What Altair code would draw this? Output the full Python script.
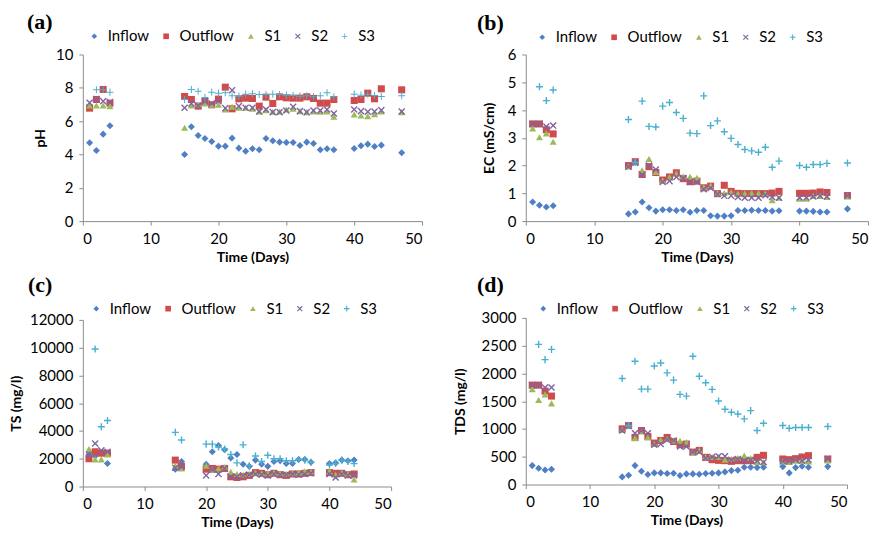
import altair as alt
import pandas as pd

SERIES = ["Inflow", "Outflow", "S1", "S2", "S3"]
COLORS = ["#4F7FC4", "#D04C4C", "#9BBB59", "#8064A2", "#4BB0CF"]

X_PATH = "M-1,-0.72L-0.72,-1L0,-0.28L0.72,-1L1,-0.72L0.28,0L1,0.72L0.72,1L0,0.28L-0.72,1L-1,0.72L-0.28,0Z"
PLUS_PATH = "M-0.14,-1L0.14,-1L0.14,-0.14L1,-0.14L1,0.14L0.14,0.14L0.14,1L-0.14,1L-0.14,0.14L-1,0.14L-1,-0.14L-0.14,-0.14Z"
PLUS_BOLD = "M-0.2,-1L0.2,-1L0.2,-0.2L1,-0.2L1,0.2L0.2,0.2L0.2,1L-0.2,1L-0.2,0.2L-1,0.2L-1,-0.2L-0.2,-0.2Z"

# sampling days
DAYS_ABD = [1, 2, 3, 4, 15, 16, 17, 18, 19, 20, 21, 22, 23, 24, 25, 26, 27, 28, 29, 30,
            31, 32, 33, 34, 35, 36, 37, 40, 41, 42, 43, 44, 47]
DAYS_ABD_S3 = [2, 3, 4, 15, 16, 17, 18, 19, 20, 21, 22, 23, 24, 25, 26, 27, 28, 29, 30,
               31, 32, 33, 34, 35, 36, 37, 40, 41, 42, 43, 44, 47]
DAYS_C = [1, 2, 3, 4, 15, 16, 20, 21, 22, 23, 24, 25, 26, 27, 28, 29, 30,
          31, 32, 33, 34, 35, 36, 37, 40, 41, 42, 43, 44]
DAYS_C_S3 = [2, 3, 4, 15, 16, 20, 21, 22, 23, 24, 25, 26, 27, 28, 29, 30,
             31, 32, 33, 34, 35, 36, 37, 40, 41, 42, 43, 44]

# (a) pH
PH_INFLOW = [4.7, 4.24, 5.22, 5.72, 4.0, 5.66, 5.14, 4.96, 4.78, 4.5, 4.5, 4.98, 4.38, 4.2, 4.34, 4.28,
             4.96, 4.82, 4.74, 4.72, 4.72, 4.54, 4.74, 4.66, 4.28, 4.34, 4.28, 4.36, 4.52, 4.62, 4.48, 4.56, 4.1]
PH_OUTFLOW = [6.78, 7.3, 7.9, 7.08, 7.48, 7.3, 6.9, 7.18, 6.98, 7.32, 8.04, 6.74, 7.34, 7.38, 7.36, 6.9,
              7.44, 7.06, 7.46, 7.4, 7.38, 7.38, 7.46, 7.36, 7.08, 7.08, 7.3, 7.24, 7.3, 7.68, 7.34, 7.94, 7.88]
PH_S1 = [6.94, 6.94, 6.94, 6.9, 5.6, 6.94, 7.0, 7.06, 6.98, 6.98, 6.7, 6.86, 6.8, 6.8, 6.74, 6.58,
         6.66, 6.56, 6.58, 6.7, 6.74, 6.6, 6.54, 6.58, 6.56, 6.58, 6.26, 6.4, 6.34, 6.3, 6.42, 6.58, 6.54]
PH_S2 = [7.1, 7.32, 7.2, 7.14, 6.8, 7.06, 6.94, 7.18, 7.06, 7.2, 6.78, 7.86, 6.9, 6.8, 6.8, 6.58,
         6.7, 6.54, 6.54, 6.64, 6.86, 6.6, 6.54, 6.64, 6.64, 6.7, 6.46, 6.7, 6.6, 6.56, 6.58, 6.66, 6.58]
PH_S3 = [7.88, 7.88, 7.74, 7.3, 7.9, 7.8, 7.42, 7.74, 7.68, 7.7, 7.52, 7.5, 7.62, 7.64, 7.6,
         7.6, 7.62, 7.6, 7.56, 7.54, 7.5, 7.52, 7.46, 7.52, 7.7, 7.46, 7.62, 7.56, 7.62, 7.54, 7.48, 7.52]

# (b) EC (mS/cm)
EC_INFLOW = [0.69, 0.57, 0.51, 0.55, 0.26, 0.33, 0.69, 0.48, 0.36, 0.41, 0.41, 0.38, 0.41, 0.32, 0.38, 0.38,
             0.19, 0.18, 0.18, 0.19, 0.38, 0.38, 0.39, 0.38, 0.38, 0.36, 0.37, 0.36, 0.36, 0.35, 0.33, 0.33, 0.44]
EC_OUTFLOW = [3.5, 3.5, 3.29, 3.14, 2.0, 2.14, 1.68, 1.96, 1.75, 1.48, 1.59, 1.74, 1.53, 1.42, 1.44, 1.2,
              1.26, 0.99, 1.29, 1.07, 1.0, 0.99, 0.99, 0.99, 0.99, 1.01, 1.07, 1.0, 1.0, 1.01, 1.05, 1.03, 0.92]
EC_S1 = [3.34, 3.02, 3.16, 2.86, 1.97, 2.12, 1.83, 2.24, 1.77, 1.47, 1.59, 1.71, 1.61, 1.6, 1.56, 1.23,
         1.29, 1.01, 1.01, 1.05, 0.99, 1.0, 1.01, 1.01, 0.99, 0.75, 0.84, 0.81, 0.81, 0.91, 0.91, 0.87, 0.89]
EC_S2 = [3.5, 3.5, 3.41, 3.44, 1.96, 2.1, 1.68, 2.0, 1.86, 1.41, 1.44, 1.59, 1.55, 1.41, 1.41, 1.15,
         1.19, 0.98, 0.91, 0.91, 0.87, 0.84, 0.84, 0.84, 0.93, 0.87, 0.84, 0.85, 0.85, 0.89, 0.91, 0.89, 0.91]
EC_S3 = [4.84, 4.34, 4.72, 3.66, 2.12, 4.32, 3.41, 3.39, 4.14, 4.27, 3.91, 3.7, 3.17, 3.15, 4.51,
         3.44, 3.61, 3.22, 2.98, 2.76, 2.58, 2.53, 2.48, 2.66, 1.94, 2.16, 2.0, 1.94, 2.04, 2.04, 2.08, 2.09]

# (c) TS (mg/l)
TS_INFLOW = [2300, 2200, 2400, 1650, 1250, 1800, 1600, 2500, 2950, 2650, 2050, 2300, 1600, 1450, 1900,
             1600, 1450, 1800, 1850, 1650, 1650, 1950, 1950, 1750, 1650, 1700, 1900, 1850, 1900]
TS_OUTFLOW = [2000, 2500, 2400, 2400, 1900, 1450, 1250, 1300, 1250, 1300, 700, 650, 700, 800, 1000,
              950, 850, 950, 850, 800, 900, 900, 950, 1000, 1000, 950, 950, 850, 900]
TS_S1 = [2700, 1950, 1950, 2300, 1500, 1300, 1500, 1200, 1300, 1400, 1050, 900, 850, 900, 1000,
         950, 950, 1000, 950, 900, 950, 1000, 1100, 1050, 1100, 850, 1000, 900, 500]
TS_S2 = [2300, 3100, 2600, 2500, 1350, 1400, 800, 1200, 900, 1300, 700, 700, 800, 850, 900,
         850, 800, 900, 850, 850, 900, 850, 900, 950, 900, 650, 900, 800, 800]
TS_S3 = [9900, 4300, 4750, 3900, 3350, 3050, 3050, 2850, 2700, 2300, 1700, 3000, 1500, 2200,
         1800, 2250, 2000, 2000, 1850, 1850, 1950, 1900, 1750, 1550, 1650, 1900, 1800, 1650]

# (d) TDS (mg/l)
TDS_INFLOW = [340, 292, 262, 274, 137, 167, 340, 239, 179, 209, 209, 197, 203, 161, 191, 191,
              185, 197, 203, 209, 227, 250, 256, 310, 310, 304, 310, 322, 209, 304, 328, 310, 322]
TDS_OUTFLOW = [1789, 1789, 1682, 1592, 1002, 1062, 847, 972, 865, 746, 793, 847, 775, 716, 728, 584,
               614, 489, 447, 435, 429, 417, 429, 429, 429, 489, 525, 459, 447, 465, 495, 519, 459]
TDS_S1 = [1718, 1521, 1622, 1461, 984, 1062, 835, 954, 847, 728, 805, 817, 793, 787, 763, 584,
          614, 495, 495, 495, 447, 459, 477, 519, 477, 406, 406, 417, 406, 429, 429, 417, 435]
TDS_S2 = [1789, 1789, 1747, 1747, 972, 1056, 924, 966, 924, 716, 728, 805, 793, 686, 686, 584,
          584, 477, 495, 507, 507, 447, 459, 429, 447, 429, 400, 417, 417, 447, 429, 447, 459]
TDS_S3 = [2523, 2248, 2433, 1908, 1062, 2219, 1718, 1718, 2135, 2189, 2010, 1879, 1622, 1592, 2308,
          1950, 1831, 1712, 1503, 1354, 1300, 1270, 1181, 1330, 972, 1103, 1062, 1014, 1026, 1026, 1026, 1044]

X_TICKS = [0, 10, 20, 30, 40, 50]


def build_df(series_values, days_main, days_s3):
    rows = []
    for name, vals in zip(SERIES, series_values):
        days = days_s3 if name == "S3" else days_main
        for d, v in zip(days, vals):
            rows.append({"Day": d, "Value": v, "Series": name})
    return pd.DataFrame(rows)


def panel(label, df, ytitle, yticks, width, ext, lx, ly, tdx, toff, s3_shape):
    shapes = ["diamond", "square", "triangle-up", X_PATH, s3_shape]
    leg = alt.Legend(orient="none", legendX=lx, legendY=ly, direction="horizontal",
                     title=None, labelFont="Lato", labelFontSize=15, labelColor="#000",
                     symbolSize=32, symbolStrokeWidth=0, columnPadding=9, labelOffset=6,
                     padding=0)
    return alt.Chart(df, title=alt.Title(label, anchor="start", frame="group", dx=tdx, offset=toff,
                                         font="Liberation Serif", fontSize=22, fontWeight="bold",
                                         color="#000")).mark_point(
        filled=True, size=50, opacity=1
    ).encode(
        x=alt.X("Day:Q", scale=alt.Scale(domain=[0, 50], nice=False),
                axis=alt.Axis(values=X_TICKS, title="Time (Days)")),
        y=alt.Y("Value:Q", scale=alt.Scale(domain=[yticks[0], yticks[-1]], nice=False),
                axis=alt.Axis(values=yticks, title=ytitle, format="d",
                              minExtent=ext, maxExtent=ext, titlePadding=9)),
        color=alt.Color("Series:N", scale=alt.Scale(domain=SERIES, range=COLORS), legend=leg),
        shape=alt.Shape("Series:N", scale=alt.Scale(domain=SERIES, range=shapes), legend=leg),
    ).properties(width=width, height=167)


df_a = build_df([PH_INFLOW, PH_OUTFLOW, PH_S1, PH_S2, PH_S3], DAYS_ABD, DAYS_ABD_S3)
df_b = build_df([EC_INFLOW, EC_OUTFLOW, EC_S1, EC_S2, EC_S3], DAYS_ABD, DAYS_ABD_S3)
df_c = build_df([TS_INFLOW, TS_OUTFLOW, TS_S1, TS_S2, TS_S3], DAYS_C, DAYS_C_S3)
df_d = build_df([TDS_INFLOW, TDS_OUTFLOW, TDS_S1, TDS_S2, TDS_S3], DAYS_ABD, DAYS_ABD_S3)

pa = panel("(a)", df_a, "pH", [0, 2, 4, 6, 8, 10], 340, 26, 4, -26, -56, -5, PLUS_PATH)
pb = panel("(b)", df_b, "EC (mS/cm)", [0, 1, 2, 3, 4, 5, 6], 343, 20, 9, -25, -49, -5, PLUS_BOLD)
pc = panel("(c)", df_c, "TS (mg/l)", [0, 2000, 4000, 6000, 8000, 10000, 12000], 309, 50, 6, -19, -55, 4, PLUS_BOLD)
pd_ = panel("(d)", df_d, "TDS (mg/l)", [0, 500, 1000, 1500, 2000, 2500, 3000], 322, 49, 10, -17, -49, 4, PLUS_BOLD)


def indep(ch):
    return ch.resolve_scale(color="independent", shape="independent").resolve_legend(
        color="independent", shape="independent")


left_col = indep(alt.vconcat(pa, pc, spacing=10))
right_col = indep(alt.vconcat(pb, pd_, spacing=10))

chart = indep(alt.hconcat(left_col, right_col, spacing=31)).properties(
    padding={"left": 2, "top": 2, "right": 0, "bottom": 0}
).configure_axis(
    labelFont="Lato", labelFontSize=15, labelColor="#000",
    titleFont="Lato", titleFontSize=14, titleFontWeight="bold", titleColor="#000",
    domainColor="#8c8c8c", tickColor="#8c8c8c", tickSize=4, labelPadding=6,
    grid=False
).configure_view(stroke=None)

chart.save("out.html", embed_options={"renderer": "svg", "actions": False})
